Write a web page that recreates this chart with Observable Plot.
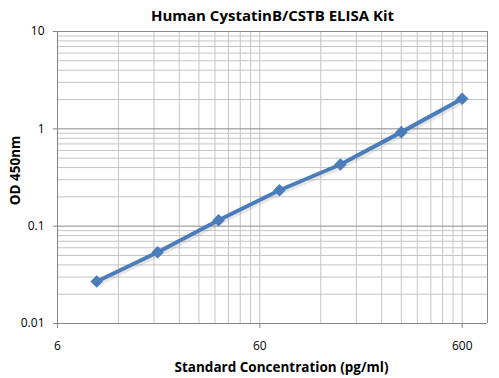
<!DOCTYPE html>
<html><head><meta charset="utf-8">
<script src="https://cdn.jsdelivr.net/npm/d3@7"></script>
<script src="https://cdn.jsdelivr.net/npm/@observablehq/plot@0.6"></script>
<style>body{margin:0;background:#fff} svg{display:block}</style>
</head><body><div id="chart"></div>
<script>
const concentrations = [9.375, 18.75, 37.5, 75, 150, 300, 600];
const od = [0.027, 0.054, 0.115, 0.234, 0.43, 0.925, 2.04];
const xTicks = [6, 60, 600];
const yTicks = [0.01, 0.1, 1, 10];
const title = "Human CystatinB/CSTB ELISA Kit";
const xLabel = "Standard Concentration (pg/ml)";
const yLabel = "OD 450nm";

const data = concentrations.map((c, i) => ({x: c, y: od[i]}));
const xGrid = Array.from(new Set([6, 60].flatMap(b => d3.range(1, 11).map(k => +(b * k).toPrecision(6)))));
const yGridMinor = [0.01, 0.1, 1].flatMap(b => d3.range(2, 10).map(k => +(b * k).toPrecision(6)));
const yGridMajor = [0.1, 1, 10];

const chart = Plot.plot({
  width: 499, height: 378,
  marginLeft: 57, marginRight: 12, marginTop: 31, marginBottom: 55,
  style: {fontFamily: "'Open Sans', sans-serif", fontSize: "12px", color: "#000", background: "#fff", overflow: "visible"},
  x: {type: "log", domain: [6, 800]},
  y: {type: "log", domain: [0.01, 10]},
  marks: [
    Plot.ruleX(xGrid, {stroke: "#c4c4c4", strokeWidth: 1, strokeOpacity: 1}),
    Plot.ruleY(yGridMinor, {stroke: "#c4c4c4", strokeWidth: 1, strokeOpacity: 1}),
    Plot.ruleY(yGridMajor, {stroke: "#8a8a8a", strokeWidth: 1, strokeOpacity: 1}),
    Plot.ruleX([800], {stroke: "#8a8a8a", strokeOpacity: 1}),
    Plot.ruleY([0.01], {stroke: "#868686", strokeOpacity: 1}),
    Plot.ruleX([6], {stroke: "#868686", strokeOpacity: 1}),
    Plot.axisX({ticks: xTicks, tickSize: 5, text: null, stroke: "#868686", label: null}),
    Plot.text(xTicks, {x: d => d, text: d => String(d), frameAnchor: "bottom", lineAnchor: "middle", dy: 23, fontSize: 12, fill: "#000"}),
    Plot.axisY({ticks: yTicks, tickFormat: d => String(d), tickSize: 4, tickPadding: 9, stroke: "#868686", label: null, fontSize: 12}),
    Plot.line(data, {x: "x", y: "y", stroke: "#9a9a9a", strokeOpacity: 0.25, strokeWidth: 5, dx: 1.5, dy: 2}),
    Plot.line(data, {x: "x", y: "y", stroke: "#4a7dba", strokeWidth: 4}),
    Plot.dot(data, {x: "x", y: "y", symbol: "square", rotate: 45, r: 5, fill: "#4a7dba", stroke: "none"}),
    Plot.text([title], {text: d => d, frameAnchor: "top", lineAnchor: "middle", dy: -15, fontSize: 15, fontWeight: "bold", fill: "#000"}),
    Plot.text([xLabel], {text: d => d, frameAnchor: "bottom", lineAnchor: "middle", dy: 44, dx: 9, fontSize: 13.5, fontWeight: "bold", fill: "#000"}),
    Plot.text([yLabel], {text: d => d, frameAnchor: "left", textAnchor: "middle", lineAnchor: "middle", dx: -42, dy: -7, rotate: -90, fontSize: 13.5, fontWeight: "bold", fill: "#000"})
  ]
});
document.getElementById("chart").appendChild(chart);
</script>
</body></html>
